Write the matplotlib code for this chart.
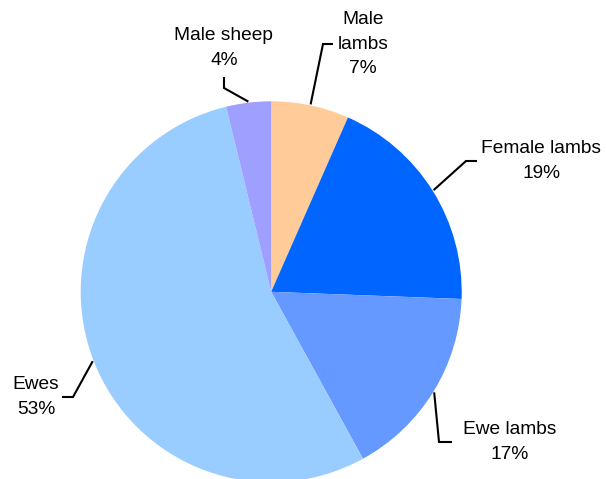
import matplotlib
matplotlib.use("Agg")
import matplotlib.pyplot as plt
import numpy as np

# shares of the flock, clockwise from 12 o'clock
categories = ["Male\nlambs", "Female lambs", "Ewe lambs", "Ewes", "Male sheep"]
values = [6.6, 19.0, 16.4, 54.2, 3.8]
pct_labels = ["7%", "19%", "17%", "53%", "4%"]
colors = ["#FFCC99", "#0066FF", "#6699FF", "#99CCFF", "#9F9FFF"]

W, H = 606, 479

# label layout in pixel coords (y down): elbow, end of leader, text centre
elbows = [(323, 44), (466, 161), (439, 442), (73, 397), (224, 88)]
ends = [(333, 44), (477, 161), (452, 442), (62, 397), (224, 77)]
text_pos = [(363, 44), (541, 161), (510, 442), (36, 397), (224, 48)]

plt.rcParams['font.family'] = ['Liberation Sans', 'DejaVu Sans']

fig = plt.figure(figsize=(W / 100, H / 100), dpi=100)
ax = fig.add_axes([0, 0, 1, 1])

cx, cy, r = 271.2, H - 291.8, 190.5
wedges, _ = ax.pie(values, colors=colors, startangle=90, counterclock=False,
                   radius=r, center=(cx, cy), wedgeprops=dict(linewidth=0))

for i, w in enumerate(wedges):
    mid = np.deg2rad((w.theta1 + w.theta2) / 2)
    ax0 = cx + (r + 1) * np.cos(mid)
    ay0 = cy + (r + 1) * np.sin(mid)
    ex, ey = elbows[i]
    fx, fy = ends[i]
    ax.plot([ax0, ex, fx], [ay0, H - ey, H - fy], color="black", lw=1.5,
            solid_capstyle="butt", solid_joinstyle="miter")
    tx, ty = text_pos[i]
    ax.text(tx, H - ty, categories[i] + "\n" + pct_labels[i], ha="center",
            va="center", fontsize=13.8, linespacing=1.55, color="black")

ax.set_xlim(0, W)
ax.set_ylim(0, H)
ax.set_aspect("equal")
ax.axis("off")

fig.savefig("out.png", dpi=100)
